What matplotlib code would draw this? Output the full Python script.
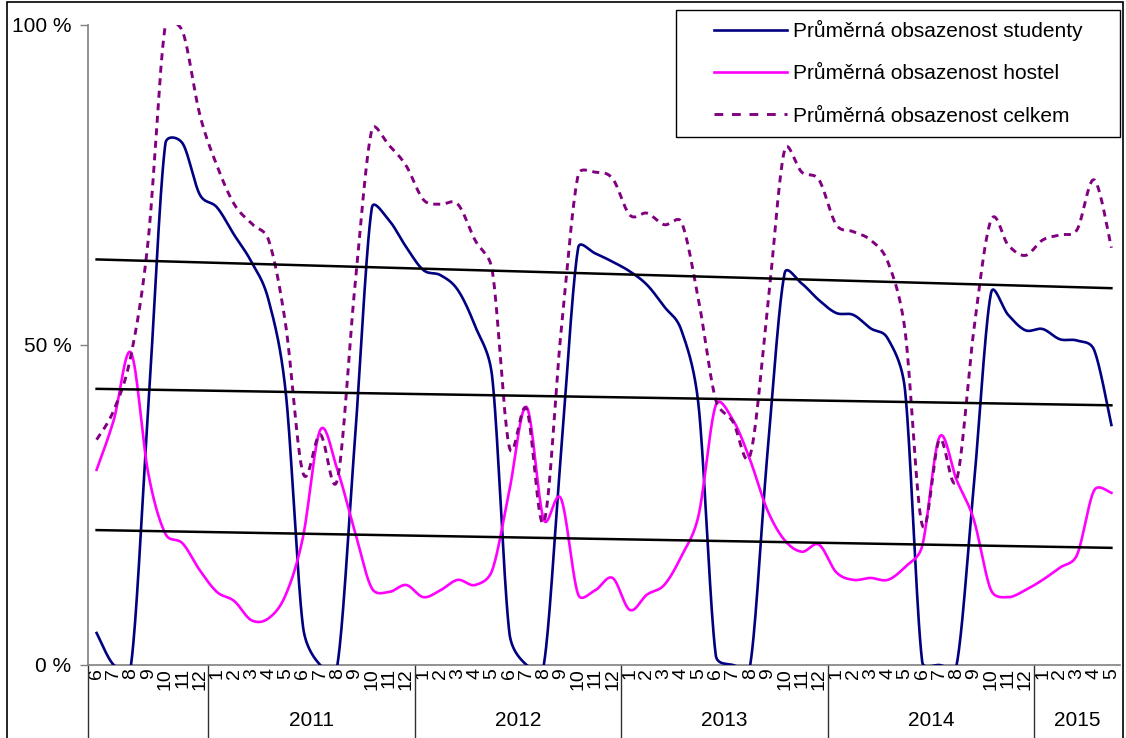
import numpy as np
import matplotlib.pyplot as plt
from matplotlib.lines import Line2D
from matplotlib.patches import Rectangle
import matplotlib.transforms as mtransforms

plt.rcParams['font.family'] = ['Liberation Sans', 'DejaVu Sans']

# months 6/2010 .. 5/2015
months = [6, 7, 8, 9, 10, 11, 12] + list(range(1, 13)) * 4 + [1, 2, 3, 4, 5]
years = ['', '2011', '2012', '2013', '2014', '2015']
year_counts = [7, 12, 12, 12, 12, 5]

# average occupancy in %
studenty = [5, 0, 0, 40, 81.5, 81.5, 73.5, 71.5, 67.2, 63, 57, 42.5,
            6, 0, 0, 34.5, 71.4, 69.5, 65.3, 61.7, 60.9, 58.6, 53, 45,
            5, 0, 0, 33, 65.2, 64.3, 63, 61.5, 59.4, 56, 52.3, 40.5,
            1.5, 0, 0, 33, 61.2, 59.6, 57, 55, 54.7, 52.6, 51, 43,
            0.5, 0, 0, 28, 58.1, 54.7, 52.3, 52.5, 50.9, 50.7, 49.2, 37.5]
hostel = [30.5, 38.3, 48.8, 30, 20.5, 19, 14.8, 11.4, 10, 7, 7.3, 11,
          20, 36.7, 30.5, 21, 12, 11.4, 12.5, 10.6, 11.7, 13.3, 12.5, 14.8,
          27.3, 40.3, 22.7, 26, 11, 11.7, 13.6, 8.6, 11, 12.5, 17, 23.4,
          40.6, 38.3, 32, 24.2, 19.5, 17.7, 18.8, 14.5, 13.3, 13.6, 13.3, 15.3,
          18.6, 35.6, 28.9, 22.7, 11.7, 10.6, 11.7, 13.3, 15.2, 17.2, 27.3, 26.9]
celkem = [35.2, 39.8, 48.4, 66.4, 100, 99, 86, 78, 72, 69, 66.4, 53,
          30, 36, 29, 58.6, 83.6, 81.2, 78, 72.7, 72, 72, 66.4, 61.7,
          34, 40, 22.3, 52, 76.6, 77, 76, 70.3, 70.6, 68.8, 69.2, 57,
          41.4, 38, 32.8, 55.5, 80.5, 77, 75.8, 68.8, 67.7, 66.4, 63, 52.3,
          21.9, 35.2, 28.9, 52.3, 69.5, 65.6, 64, 66.4, 67.2, 68, 75.8, 65.2]

NAVY = '#000080'
MAGENTA = '#FF00FF'
PURPLE = '#800080'
FS = 15

W, H = 1126, 738
AX_L, AX_R, AX_T, AX_B = 88, 1120, 25, 665
SX = (AX_R - AX_L) / len(months)   # pixels per category
SY = (AX_B - AX_T) / 100           # pixels per percent


def smooth(values, n=30):
    """Excel-like smoothed line: Bezier segments, worked out in pixel space."""
    P = np.column_stack([np.arange(len(values)) * SX,
                         np.asarray(values, float) * SY])
    P = np.vstack([P[0], P, P[-1]])
    t = np.linspace(0, 1, n, endpoint=False)[:, None]
    out = []
    for i in range(len(P) - 3):
        p0, p1, p2, p3 = P[i:i + 4]
        d12 = np.hypot(*(p2 - p1))
        d02 = np.hypot(*(p2 - p0))
        d13 = np.hypot(*(p3 - p1))
        f1 = min(1 / 6, 0.5 * d12 / d02) if d02 > 0 else 0
        f2 = min(1 / 6, 0.5 * d12 / d13) if d13 > 0 else 0
        c1 = p1 + (p2 - p0) * f1
        c2 = p2 - (p3 - p1) * f2
        out.append((1 - t)**3 * p1 + 3 * (1 - t)**2 * t * c1
                   + 3 * (1 - t) * t**2 * c2 + t**3 * p2)
    out.append(P[-2][None, :])
    pts = np.vstack(out)
    return pts[:, 0] / SX, pts[:, 1] / SY


fig = plt.figure(figsize=(W / 100, H / 100), dpi=100)
ax = fig.add_axes([AX_L / W, 1 - AX_B / H, (AX_R - AX_L) / W, (AX_B - AX_T) / H])

idx = np.arange(len(months))
ax.plot(*smooth(studenty), color=NAVY, lw=1.9, zorder=3)
ax.plot(*smooth(hostel), color=MAGENTA, lw=1.9, zorder=3)
ax.plot(*smooth(celkem), color=PURPLE, lw=2.1, dashes=(2.4, 1.9), zorder=3)

# linear trend lines
for s in (celkem, studenty, hostel):
    k, q = np.polyfit(idx, s, 1)
    ax.plot([idx[0], idx[-1]], [q, k * idx[-1] + q], color='black', lw=1.8, zorder=4)

ax.set_xlim(-0.5, len(months) - 0.5)
ax.set_ylim(0, 100)
ax.set_yticks([0, 50, 100])
ax.set_yticklabels(['0 %', '50 %', '100 %'], fontsize=FS)
ax.set_xticks(idx)
ax.set_xticklabels([str(m) for m in months], rotation=90, fontsize=FS - 1)
ax.tick_params(axis='x', length=0, pad=2)
ax.tick_params(axis='y', length=6, width=1, color='#808080', pad=6)
for side in ('top', 'right'):
    ax.spines[side].set_visible(False)
for side in ('left', 'bottom'):
    ax.spines[side].set_color('#808080')
    ax.spines[side].set_linewidth(1.2)

# year groups under the month labels
trans = mtransforms.blended_transform_factory(ax.transData, ax.transAxes)
bounds = np.concatenate([[0], np.cumsum(year_counts)]) - 0.5
for b in bounds[:-1]:
    ax.plot([b, b], [0, -0.12], transform=trans, color='#303030', lw=1,
            clip_on=False)
for y, a, b in zip(years, bounds[:-1], bounds[1:]):
    ax.text((a + b) / 2, -0.086, y, transform=trans, ha='center', va='center',
            fontsize=FS)

# outer border
fig.patches.append(Rectangle((7 / W, -0.05), (1123 - 7) / W, 1.05 - 2 / H,
                             transform=fig.transFigure, fill=False,
                             edgecolor='black', lw=1.2))

# legend
fig.patches.append(Rectangle((676 / W, 1 - 137 / H), 444 / W, 127 / H,
                             transform=fig.transFigure, facecolor='white',
                             edgecolor='black', lw=1, zorder=5))
handles = [Line2D([], [], color=NAVY, lw=1.9),
           Line2D([], [], color=MAGENTA, lw=1.9),
           Line2D([], [], color=PURPLE, lw=2.1, dashes=(3, 3))]
labels = ['Průměrná obsazenost studenty', 'Průměrná obsazenost hostel',
          'Průměrná obsazenost celkem']
leg = fig.legend(handles, labels, loc='upper left',
                 bbox_to_anchor=(714 / W, 1 - 20 / H), frameon=False,
                 fontsize=FS, handlelength=3.5, handletextpad=0.3,
                 labelspacing=1.12, borderpad=0, borderaxespad=0)
leg.set_zorder(6)

fig.savefig('out.png', dpi=100, facecolor='white')
